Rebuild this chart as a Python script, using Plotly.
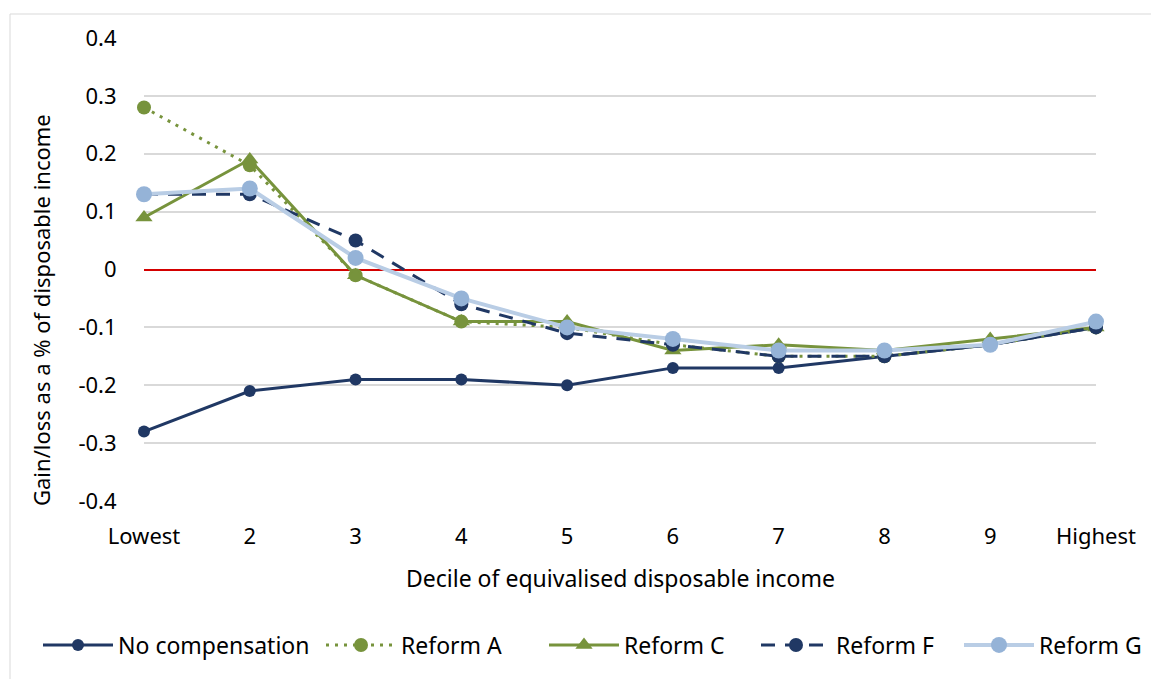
import plotly.graph_objects as go

categories = ["Lowest", "2", "3", "4", "5", "6", "7", "8", "9", "Highest"]
no_comp  = [-0.28, -0.21, -0.19, -0.19, -0.20, -0.17, -0.17, -0.15, -0.13, -0.10]
reform_a = [0.28, 0.18, -0.01, -0.09, -0.10, -0.13, -0.15, -0.15, -0.13, -0.10]
reform_c = [0.09, 0.19, -0.01, -0.09, -0.09, -0.14, -0.13, -0.14, -0.12, -0.10]
reform_f = [0.13, 0.13, 0.05, -0.06, -0.11, -0.13, -0.15, -0.15, -0.13, -0.10]
reform_g = [0.13, 0.14, 0.02, -0.05, -0.10, -0.12, -0.14, -0.14, -0.13, -0.09]
y_ticks = [-0.4, -0.3, -0.2, -0.1, 0, 0.1, 0.2, 0.3, 0.4]

NAVY = "#203864"
GREEN = "#77933C"
LBLUE_LINE = "#B9CDE5"
LBLUE_MARK = "#95B3D7"
FONT = "Noto Sans"

x = list(range(len(categories)))

W, H = 1151, 679
L, R, T, B = 144, 1096, 38, 501

def px_x(p):
    return (p - L) / (R - L)

def px_y(p):
    return (B - p) / (B - T)

fig = go.Figure()
fig.add_trace(go.Scatter(x=x, y=no_comp, name="No compensation", mode="lines+markers",
                         line=dict(color=NAVY, width=3), legend="legend",
                         marker=dict(symbol="circle", size=12, color=NAVY), cliponaxis=False))
fig.add_trace(go.Scatter(x=x, y=reform_a, name="Reform A", mode="lines+markers",
                         line=dict(color=GREEN, width=3, dash="3px,6px"), legend="legend2",
                         marker=dict(symbol="circle", size=14, color=GREEN), cliponaxis=False))
fig.add_trace(go.Scatter(x=x, y=reform_c, name="Reform C", mode="lines+markers",
                         line=dict(color=GREEN, width=3), legend="legend3",
                         marker=dict(symbol="triangle-up", size=15, color=GREEN), cliponaxis=False))
fig.add_trace(go.Scatter(x=x, y=reform_f, name="Reform F", mode="lines+markers",
                         line=dict(color=NAVY, width=3, dash="14px,10px"), legend="legend4",
                         marker=dict(symbol="circle", size=14, color=NAVY), cliponaxis=False))
fig.add_trace(go.Scatter(x=x, y=reform_g, name="Reform G", mode="lines+markers",
                         line=dict(color=LBLUE_LINE, width=4), legend="legend5",
                         marker=dict(symbol="circle", size=16, color=LBLUE_MARK), cliponaxis=False))

def leg(xpx):
    return dict(orientation="h", x=px_x(xpx), y=px_y(645), xanchor="left", yanchor="middle",
                font=dict(family=FONT, size=23, color="#000000"),
                itemwidth=70, bgcolor="rgba(0,0,0,0)", itemclick=False)

fig.update_layout(
    width=W, height=H,
    margin=dict(l=L, r=W - R, t=T, b=H - B, autoexpand=False),
    paper_bgcolor="white", plot_bgcolor="white",
    font=dict(family=FONT, size=22, color="#000000"),
    showlegend=True,
    legend=leg(38), legend2=leg(321), legend3=leg(544), legend4=leg(756), legend5=leg(959),
    xaxis=dict(tickmode="array", tickvals=x, ticktext=categories, range=[0, len(categories) - 1],
               showgrid=False, zeroline=False, showline=False,
               ticks="outside", ticklen=16, tickcolor="rgba(0,0,0,0)",
               tickfont=dict(family=FONT, size=22, color="#000000")),
    yaxis=dict(range=[-0.4, 0.4], tickmode="array", tickvals=y_ticks,
               ticktext=[("%g" % v) for v in y_ticks],
               showgrid=True, gridcolor="#D9D9D9", gridwidth=1.5,
               zeroline=True, zerolinecolor="#D40000", zerolinewidth=2,
               showline=False, ticks="outside", ticklen=22, tickcolor="rgba(0,0,0,0)",
               tickfont=dict(family=FONT, size=22, color="#000000")),
    shapes=[dict(type="rect", xref="paper", yref="paper",
                 x0=px_x(10), x1=px_x(1165), y0=px_y(695), y1=px_y(14),
                 line=dict(color="#D9D9D9", width=1), fillcolor="rgba(0,0,0,0)", layer="below")],
    annotations=[
        dict(text="Gain/loss as a % of disposable income", xref="paper", yref="paper",
             x=px_x(41), y=px_y(310), xanchor="center", yanchor="middle", textangle=-90,
             showarrow=False, font=dict(family=FONT, size=22, color="#000000")),
        dict(text="Decile of equivalised disposable income", xref="paper", yref="paper",
             x=px_x(620), y=px_y(578), xanchor="center", yanchor="middle",
             showarrow=False, font=dict(family=FONT, size=23, color="#000000")),
    ],
)

fig.write_html("out.html")
